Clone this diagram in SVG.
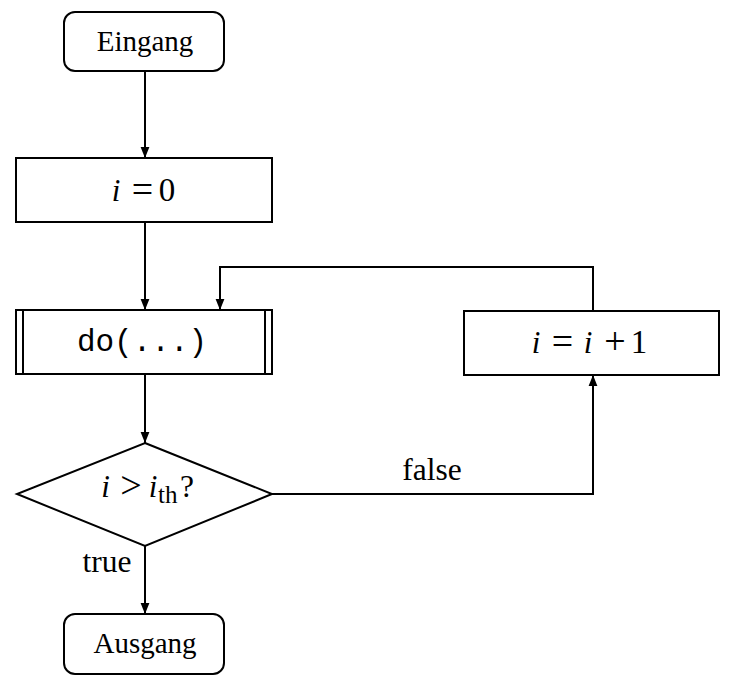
<svg xmlns="http://www.w3.org/2000/svg" width="735" height="692" viewBox="0 0 735 692">
<style>
.box{fill:#fff;stroke:#000;stroke-width:2}
.ln{fill:none;stroke:#000;stroke-width:2}
.t{font-family:"Liberation Serif",serif;font-size:29px;fill:#000}
.lb{font-family:"Liberation Serif",serif;font-size:31.5px;fill:#000}
.m{font-family:"Liberation Serif",serif;font-size:31px;font-style:italic;fill:#000;text-anchor:middle}
.r{font-family:"Liberation Serif",serif;font-size:33px;fill:#000;text-anchor:middle}
.op{font-family:"Liberation Serif",serif;font-size:38px;fill:#000;text-anchor:middle}
.s{font-family:"Liberation Serif",serif;font-size:25px;fill:#000}
.mono{font-family:"Liberation Mono",monospace;font-size:31px;fill:#000}
</style>
<defs>
<marker id="ah" viewBox="0 0 10 10" refX="10" refY="5" markerWidth="11" markerHeight="11" markerUnits="userSpaceOnUse" orient="auto">
<path d="M0,1 L10,5 L0,9 Z" fill="#000"/>
</marker>
</defs>
<rect width="735" height="692" fill="#fff"/>
<g id="connectors">
<line class="ln" x1="145" y1="71" x2="145" y2="158" marker-end="url(#ah)"/>
<line class="ln" x1="145" y1="222" x2="145" y2="310" marker-end="url(#ah)"/>
<line class="ln" x1="145" y1="374" x2="145" y2="443" marker-end="url(#ah)"/>
<line class="ln" x1="145" y1="546" x2="145" y2="614" marker-end="url(#ah)"/>
<polyline class="ln" points="593,311 593,267 220,267 220,310" marker-end="url(#ah)"/>
<polyline class="ln" points="272,494 593,494 593,375" marker-end="url(#ah)"/>
<text class="lb" x="432" y="480" text-anchor="middle">false</text>
<text class="lb" x="107" y="572" text-anchor="middle">true</text>
</g>
<g id="eingang">
<rect class="box" x="64" y="12" width="160" height="59" rx="11"/>
<text class="t" x="145" y="51" text-anchor="middle">Eingang</text>
</g>
<g id="init">
<rect class="box" x="16" y="158" width="256" height="64"/>
<text class="m" x="116" y="201">i</text>
<text class="op" x="142.5" y="202">=</text>
<text class="r" x="167" y="201">0</text>
</g>
<g id="do">
<rect class="box" x="16" y="310" width="256" height="64"/>
<line class="ln" x1="23" y1="310" x2="23" y2="374"/>
<line class="ln" x1="265" y1="310" x2="265" y2="374"/>
<text class="mono" x="142" y="351" text-anchor="middle">do(...)</text>
</g>
<g id="inc">
<rect class="box" x="464" y="311" width="255" height="64"/>
<text class="m" x="536" y="353">i</text>
<text class="op" x="562.5" y="354">=</text>
<text class="m" x="588" y="353">i</text>
<text class="op" x="615" y="354">+</text>
<text class="r" x="639" y="353">1</text>
</g>
<g id="cond">
<polygon class="box" points="145,443 272,494 145,546 17,494"/>
<text class="m" x="105.5" y="497">i</text>
<text class="op" x="131" y="498">&gt;</text>
<text class="m" x="153" y="497">i</text>
<text class="s" x="158" y="503">th</text>
<text class="lb" x="180" y="497">?</text>
</g>
<g id="ausgang">
<rect class="box" x="64" y="614" width="160" height="60" rx="11"/>
<text class="t" x="145" y="653" text-anchor="middle">Ausgang</text>
</g>
</svg>
